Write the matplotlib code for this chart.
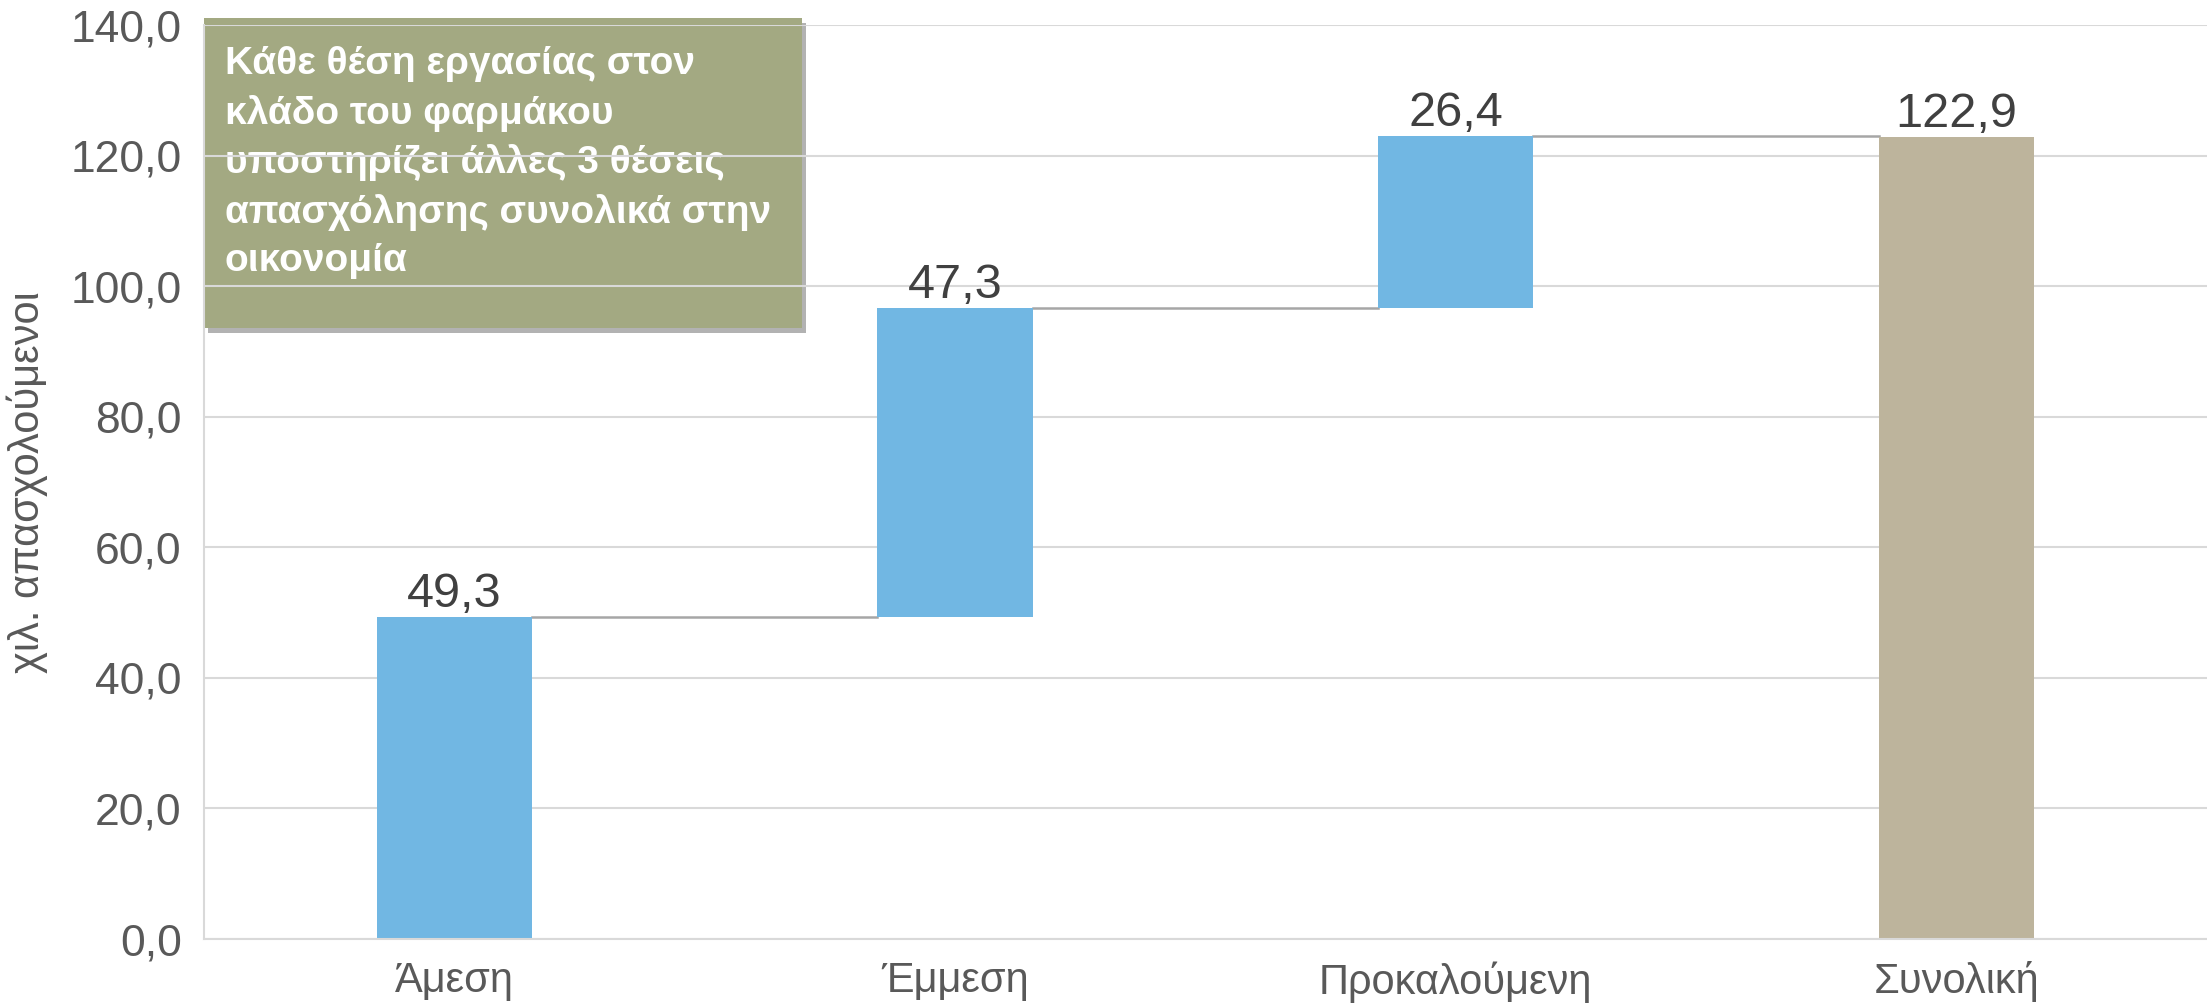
"""Waterfall chart: direct / indirect / induced employment of the pharma sector."""

import matplotlib

matplotlib.use("Agg")
import matplotlib.pyplot as plt
from matplotlib.patches import Rectangle

plt.rcParams["font.family"] = ["Liberation Sans Narrow", "Liberation Sans", "DejaVu Sans"]

categories = ["Άμεση", "Έμμεση", "Προκαλούμενη", "Συνολική"]
steps = [49.3, 47.3, 26.4]
total = 122.9
y_ticks = [0, 20, 40, 60, 80, 100, 120, 140]
y_label = "χιλ. απασχολούμενοι"
note = ("Κάθε θέση εργασίας στον\nκλάδο του φαρμάκου\n"
        "υποστηρίζει άλλες 3 θέσεις\nαπασχόλησης συνολικά στην\nοικονομία")

STEP_COLOR = "#71B7E3"
TOTAL_COLOR = "#BDB49C"
BOX_COLOR = "#A3A982"
GRID_COLOR = "#D9D9D9"
LINK_COLOR = "#A6A6A6"
TEXT_COLOR = "#595959"
LABEL_COLOR = "#404040"

fig = plt.figure(figsize=(22.07, 10.07), dpi=100)
ax = fig.add_axes([0.0924, 0.0675, 0.9076, 0.9075])

width = 0.31
bottoms = []
level = 0.0
for v in steps:
    bottoms.append(level)
    level += v

x = list(range(len(categories)))
ax.bar(x[:3], steps, bottom=bottoms, width=width, color=STEP_COLOR, zorder=2)
ax.bar(x[3], total, width=width, color=TOTAL_COLOR, zorder=2)

# connector lines between bars
tops = [b + v for b, v in zip(bottoms, steps)]
for i, t in enumerate(tops):
    ax.plot([i + width / 2, i + 1 - width / 2], [t, t], color=LINK_COLOR, lw=1.8, zorder=1.5)

labels = steps + [total]
label_tops = tops + [total]
for i, (v, t) in enumerate(zip(labels, label_tops)):
    ax.annotate(f"{v:.1f}".replace(".", ","), (i, t), xytext=(0, 0),
                textcoords="offset points", ha="center", va="bottom",
                fontsize=35, color=LABEL_COLOR)

ax.set_xlim(-0.5, 3.5)
ax.set_ylim(0, 140)
ax.set_yticks(y_ticks)
ax.set_yticklabels([f"{t:.1f}".replace(".", ",") for t in y_ticks])
ax.set_xticks(x)
ax.set_xticklabels(categories)
ax.tick_params(length=0, labelsize=32, labelcolor=TEXT_COLOR, pad=16)
ax.tick_params(axis="x", labelsize=30, pad=16)
ax.set_ylabel(y_label, fontsize=30, color=TEXT_COLOR, labelpad=16)

ax.grid(axis="y", color=GRID_COLOR, lw=1.5, zorder=0.5)
ax.set_axisbelow(True)
for side in ["top", "right"]:
    ax.spines[side].set_visible(False)
for side in ["left", "bottom"]:
    ax.spines[side].set_color(GRID_COLOR)
    ax.spines[side].set_linewidth(1.5)

# note box sits under the gridlines, like the original
ax.add_patch(Rectangle((0.002, 0.663), 0.2986, 0.3392, transform=ax.transAxes,
                       facecolor="#555555", alpha=0.45, edgecolor="none",
                       clip_on=False, zorder=0.2))
ax.add_patch(Rectangle((0.0, 0.6685), 0.2986, 0.3392, transform=ax.transAxes,
                       facecolor=BOX_COLOR, edgecolor="none", clip_on=False, zorder=0.3))
ax.text(0.0105, 0.977, note, transform=ax.transAxes, ha="left", va="top",
        fontsize=28, fontweight="bold", color="white", linespacing=1.43, zorder=0.4)

fig.savefig("out.png", dpi=100)
